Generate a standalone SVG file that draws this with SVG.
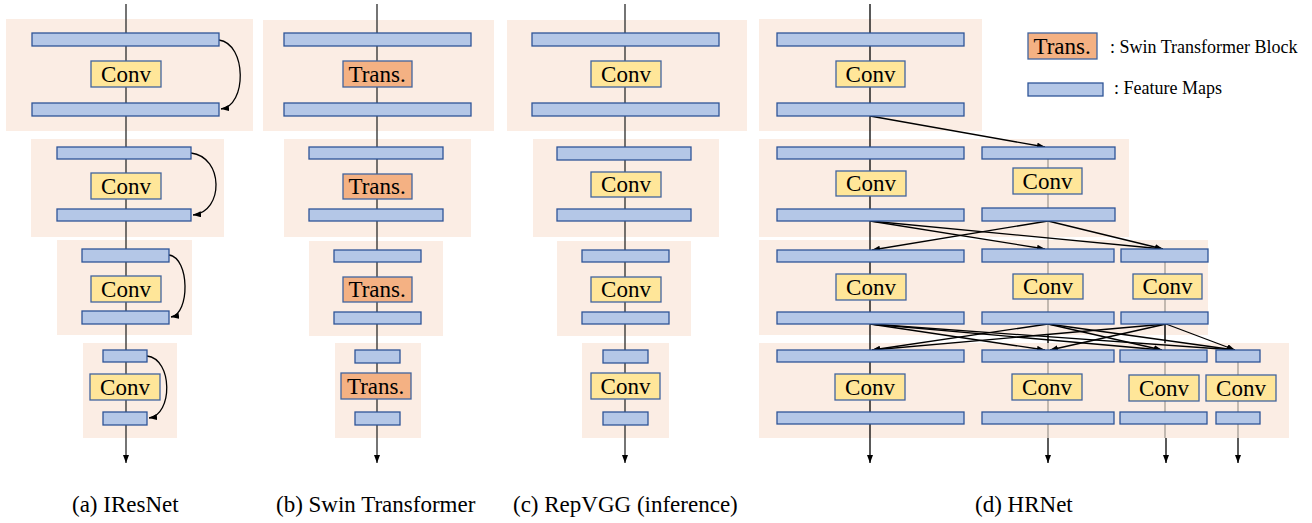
<svg xmlns="http://www.w3.org/2000/svg" width="1312" height="523" viewBox="0 0 1312 523">
<style>
.bg{fill:#fbede4}
.fm{fill:#b4c7e7;stroke:#2f5597;stroke-width:1.3}
.conv{fill:#ffe699;stroke:#41649e;stroke-width:1.3}
.trans{fill:#f4b183;stroke:#41649e;stroke-width:1.3}
.lbl{fill:#000}
.leg{font-family:'Liberation Serif',serif;font-size:18px;fill:#000}
.v{stroke:#3a3a3a;stroke-width:1.4;fill:none}
.g{stroke:#aaa29b;stroke-width:1.4;fill:none}
.k{stroke:#000;stroke-width:1.3;fill:none}
</style>
<defs>
<marker id="ah" markerWidth="8" markerHeight="6" refX="8" refY="3" orient="auto" markerUnits="userSpaceOnUse">
<path d="M0,0 L8,3 L0,6 Z" fill="#000"/>
</marker>
</defs>
<rect width="1312" height="523" fill="#fff"/>
<g id="stages">
<rect class="bg" x="6" y="19" width="247" height="112"/>
<rect class="bg" x="31" y="139" width="193" height="98"/>
<rect class="bg" x="57" y="240" width="135" height="95"/>
<rect class="bg" x="83" y="343" width="94" height="95"/>
<rect class="bg" x="263" y="20" width="231" height="111"/>
<rect class="bg" x="284" y="139" width="187" height="98"/>
<rect class="bg" x="309" y="241" width="134" height="95"/>
<rect class="bg" x="335" y="343" width="86" height="95"/>
<rect class="bg" x="507" y="20" width="240" height="111"/>
<rect class="bg" x="533" y="139" width="186" height="98"/>
<rect class="bg" x="557" y="241" width="134" height="95"/>
<rect class="bg" x="582" y="343" width="87" height="95"/>
<rect class="bg" x="759" y="19" width="223" height="112"/>
<rect class="bg" x="759" y="139" width="370" height="98"/>
<rect class="bg" x="759" y="240" width="449" height="95"/>
<rect class="bg" x="759" y="343" width="530" height="95"/>
</g>
<g id="connectors">
<line class="v" x1="126" y1="4" x2="126" y2="463" marker-end="url(#ah)"/>
<line class="v" x1="377" y1="4" x2="377" y2="463" marker-end="url(#ah)"/>
<line class="v" x1="625" y1="4" x2="625" y2="463" marker-end="url(#ah)"/>
<line class="k" x1="870" y1="4" x2="870" y2="463" marker-end="url(#ah)"/>
<path class="k" d="M219,40 C247,44 247,106 221,109" marker-end="url(#ah)"/>
<path class="k" d="M191,153 C224,157 224,212 193,215" marker-end="url(#ah)"/>
<path class="k" d="M169,255 C190,258 190,314 171,317" marker-end="url(#ah)"/>
<path class="k" d="M147,356 C173,359 173,415 149,418" marker-end="url(#ah)"/>
<line class="g" x1="1048" y1="147" x2="1048" y2="438"/>
<line class="g" x1="1165" y1="249" x2="1165" y2="438"/>
<line class="g" x1="1238" y1="350" x2="1238" y2="438"/>
<line class="k" x1="1048" y1="335" x2="1048" y2="343"/>
<line class="k" x1="1165" y1="324" x2="1165" y2="343"/>
<line class="k" x1="1048" y1="438" x2="1048" y2="463" marker-end="url(#ah)"/>
<line class="k" x1="1166" y1="438" x2="1166" y2="463" marker-end="url(#ah)"/>
<line class="k" x1="1238" y1="438" x2="1238" y2="463" marker-end="url(#ah)"/>
<line class="k" x1="870" y1="116" x2="1045" y2="147" marker-end="url(#ah)"/>
<line class="k" x1="870" y1="221" x2="1045" y2="249" marker-end="url(#ah)"/>
<line class="k" x1="870" y1="221" x2="1163" y2="249" marker-end="url(#ah)"/>
<line class="k" x1="1048" y1="221" x2="872" y2="250" marker-end="url(#ah)"/>
<line class="k" x1="1048" y1="221" x2="1163" y2="249" marker-end="url(#ah)"/>
<line class="k" x1="870" y1="324" x2="1045" y2="350" marker-end="url(#ah)"/>
<line class="k" x1="870" y1="324" x2="1162" y2="350" marker-end="url(#ah)"/>
<line class="k" x1="870" y1="324" x2="1235" y2="350" marker-end="url(#ah)"/>
<line class="k" x1="1048" y1="324" x2="872" y2="350" marker-end="url(#ah)"/>
<line class="k" x1="1048" y1="324" x2="1162" y2="350" marker-end="url(#ah)"/>
<line class="k" x1="1048" y1="324" x2="1235" y2="350" marker-end="url(#ah)"/>
<line class="k" x1="1166" y1="324" x2="872" y2="350" marker-end="url(#ah)"/>
<line class="k" x1="1166" y1="324" x2="1050" y2="350" marker-end="url(#ah)"/>
<line class="k" x1="1166" y1="324" x2="1235" y2="350" marker-end="url(#ah)"/>
</g>
<g id="a1"><rect class="fm" x="32" y="33" width="187" height="13"/><rect class="conv" x="91" y="61" width="70" height="26"/><text class="lbl" font-family="Liberation Serif" font-size="30" transform="translate(101.1,82) scale(0.7667)">Conv</text><rect class="fm" x="32" y="103" width="187" height="13"/></g>
<g id="a2"><rect class="fm" x="57" y="147" width="134" height="12"/><rect class="conv" x="91" y="173" width="70" height="26"/><text class="lbl" font-family="Liberation Serif" font-size="30" transform="translate(101.1,194) scale(0.7667)">Conv</text><rect class="fm" x="57" y="209" width="134" height="12"/></g>
<g id="a3"><rect class="fm" x="82" y="249" width="87" height="13"/><rect class="conv" x="91" y="276" width="70" height="26"/><text class="lbl" font-family="Liberation Serif" font-size="30" transform="translate(101.1,297) scale(0.7667)">Conv</text><rect class="fm" x="82" y="311" width="87" height="13"/></g>
<g id="a4"><rect class="fm" x="103" y="350" width="44" height="12"/><rect class="conv" x="90" y="374" width="70" height="26"/><text class="lbl" font-family="Liberation Serif" font-size="30" transform="translate(100.1,395) scale(0.7667)">Conv</text><rect class="fm" x="103" y="412" width="44" height="13"/></g>
<g id="b1"><rect class="fm" x="284" y="33" width="187" height="13"/><rect class="trans" x="343" y="61" width="69" height="26"/><text class="lbl" font-family="Liberation Serif" font-size="30" transform="translate(348.4,82) scale(0.7667)">Trans.</text><rect class="fm" x="284" y="103" width="187" height="13"/></g>
<g id="b2"><rect class="fm" x="309" y="147" width="134" height="12"/><rect class="trans" x="343" y="174" width="69" height="25"/><text class="lbl" font-family="Liberation Serif" font-size="30" transform="translate(348.4,194) scale(0.7667)">Trans.</text><rect class="fm" x="309" y="209" width="134" height="12"/></g>
<g id="b3"><rect class="fm" x="334" y="250" width="87" height="12"/><rect class="trans" x="343" y="277" width="69" height="25"/><text class="lbl" font-family="Liberation Serif" font-size="30" transform="translate(348.4,297) scale(0.7667)">Trans.</text><rect class="fm" x="334" y="312" width="87" height="12"/></g>
<g id="b4"><rect class="fm" x="355" y="350" width="45" height="13"/><rect class="trans" x="341" y="373" width="70" height="26"/><text class="lbl" font-family="Liberation Serif" font-size="30" transform="translate(346.9,394) scale(0.7667)">Trans.</text><rect class="fm" x="355" y="412" width="45" height="13"/></g>
<g id="c1"><rect class="fm" x="532" y="33" width="187" height="13"/><rect class="conv" x="591" y="61" width="70" height="26"/><text class="lbl" font-family="Liberation Serif" font-size="30" transform="translate(601.1,82) scale(0.7667)">Conv</text><rect class="fm" x="532" y="103" width="187" height="13"/></g>
<g id="c2"><rect class="fm" x="557" y="147" width="134" height="13"/><rect class="conv" x="591" y="172" width="70" height="25"/><text class="lbl" font-family="Liberation Serif" font-size="30" transform="translate(601.1,192) scale(0.7667)">Conv</text><rect class="fm" x="557" y="209" width="134" height="12"/></g>
<g id="c3"><rect class="fm" x="582" y="250" width="87" height="12"/><rect class="conv" x="591" y="277" width="70" height="25"/><text class="lbl" font-family="Liberation Serif" font-size="30" transform="translate(601.1,297) scale(0.7667)">Conv</text><rect class="fm" x="582" y="312" width="87" height="12"/></g>
<g id="c4"><rect class="fm" x="603" y="350" width="45" height="13"/><rect class="conv" x="591" y="373" width="69" height="26"/><text class="lbl" font-family="Liberation Serif" font-size="30" transform="translate(600.6,394) scale(0.7667)">Conv</text><rect class="fm" x="603" y="412" width="45" height="13"/></g>
<g id="d1"><rect class="fm" x="777" y="33" width="187" height="13"/><rect class="conv" x="836" y="61" width="69" height="26"/><text class="lbl" font-family="Liberation Serif" font-size="30" transform="translate(845.6,82) scale(0.7667)">Conv</text><rect class="fm" x="777" y="103" width="187" height="13"/></g>
<g id="d2-1"><rect class="fm" x="777" y="147" width="187" height="12"/><rect class="conv" x="836" y="171" width="70" height="25"/><text class="lbl" font-family="Liberation Serif" font-size="30" transform="translate(846.1,191) scale(0.7667)">Conv</text><rect class="fm" x="777" y="209" width="187" height="12"/></g>
<g id="d2-2"><rect class="fm" x="982" y="147" width="133" height="12"/><rect class="conv" x="1013" y="168" width="69" height="26"/><text class="lbl" font-family="Liberation Serif" font-size="30" transform="translate(1022.6,189) scale(0.7667)">Conv</text><rect class="fm" x="982" y="208" width="133" height="13"/></g>
<g id="d3-1"><rect class="fm" x="777" y="250" width="187" height="12"/><rect class="conv" x="836" y="274" width="70" height="26"/><text class="lbl" font-family="Liberation Serif" font-size="30" transform="translate(846.1,295) scale(0.7667)">Conv</text><rect class="fm" x="777" y="312" width="187" height="12"/></g>
<g id="d3-2"><rect class="fm" x="982" y="249" width="132" height="13"/><rect class="conv" x="1013" y="274" width="70" height="25"/><text class="lbl" font-family="Liberation Serif" font-size="30" transform="translate(1023.1,294) scale(0.7667)">Conv</text><rect class="fm" x="982" y="312" width="132" height="12"/></g>
<g id="d3-3"><rect class="fm" x="1121" y="249" width="87" height="13"/><rect class="conv" x="1133" y="274" width="69" height="25"/><text class="lbl" font-family="Liberation Serif" font-size="30" transform="translate(1142.6,294) scale(0.7667)">Conv</text><rect class="fm" x="1121" y="312" width="87" height="12"/></g>
<g id="d4-1"><rect class="fm" x="777" y="350" width="187" height="12"/><rect class="conv" x="835" y="374" width="70" height="26"/><text class="lbl" font-family="Liberation Serif" font-size="30" transform="translate(845.1,395) scale(0.7667)">Conv</text><rect class="fm" x="777" y="412" width="187" height="12"/></g>
<g id="d4-2"><rect class="fm" x="982" y="350" width="132" height="12"/><rect class="conv" x="1012" y="374" width="70" height="26"/><text class="lbl" font-family="Liberation Serif" font-size="30" transform="translate(1022.1,395) scale(0.7667)">Conv</text><rect class="fm" x="982" y="412" width="132" height="12"/></g>
<g id="d4-3"><rect class="fm" x="1120" y="350" width="87" height="12"/><rect class="conv" x="1129" y="375" width="70" height="26"/><text class="lbl" font-family="Liberation Serif" font-size="30" transform="translate(1139.1,396) scale(0.7667)">Conv</text><rect class="fm" x="1120" y="412" width="87" height="12"/></g>
<g id="d4-4"><rect class="fm" x="1216" y="350" width="44" height="12"/><rect class="conv" x="1206" y="375" width="70" height="26"/><text class="lbl" font-family="Liberation Serif" font-size="30" transform="translate(1216.1,396) scale(0.7667)">Conv</text><rect class="fm" x="1216" y="412" width="44" height="12"/></g>
<g id="legend-trans"><rect class="trans" x="1028" y="33" width="69" height="26"/><text class="lbl" font-family="Liberation Serif" font-size="30" transform="translate(1033.4,54) scale(0.7667)">Trans.</text><text class="leg" x="1110" y="53">: Swin Transformer Block</text></g>
<g id="legend-fm"><rect class="fm" x="1028" y="83" width="75" height="13"/><text class="leg" x="1114" y="94">: Feature Maps</text></g>
<g id="captions">
<text class="lbl" font-family="Liberation Serif" font-size="30" transform="translate(72,512) scale(0.7667)">(a) IResNet</text>
<text class="lbl" font-family="Liberation Serif" font-size="30" transform="translate(276,512) scale(0.7667)">(b) Swin Transformer</text>
<text class="lbl" font-family="Liberation Serif" font-size="30" transform="translate(513,512) scale(0.7667)">(c) RepVGG (inference)</text>
<text class="lbl" font-family="Liberation Serif" font-size="30" transform="translate(975,512) scale(0.7667)">(d) HRNet</text>
</g>
</svg>
